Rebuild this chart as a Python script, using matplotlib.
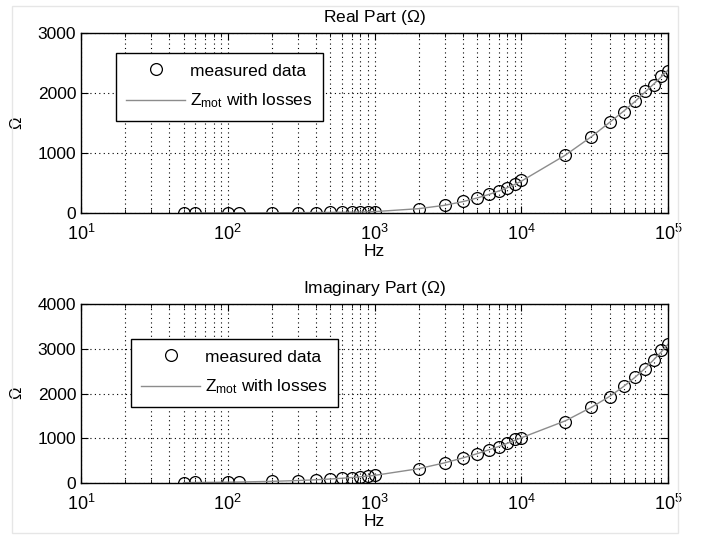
import matplotlib.pyplot as plt
from matplotlib.patches import Rectangle
import numpy as np

plt.rcParams['font.family'] = ['Liberation Sans', 'DejaVu Sans']
plt.rcParams['mathtext.fontset'] = 'custom'
plt.rcParams['mathtext.rm'] = 'Liberation Sans'
plt.rcParams['mathtext.it'] = 'Liberation Sans'

# measurement frequencies (Hz)
freq = [50, 60, 100, 120, 200, 300, 400, 500, 600, 700, 800, 900, 1000,
        2000, 3000, 4000, 5000, 6000, 7000, 8000, 9000, 10000,
        20000, 30000, 40000, 50000, 60000, 70000, 80000, 90000, 100000]

# real part, measured (Ohm)
real_meas = [2, 2, 3, 3, 4, 6, 7, 9, 11, 13, 15, 18, 22,
             75, 130, 195, 255, 310, 365, 425, 490, 545,
             975, 1265, 1515, 1690, 1860, 2035, 2140, 2290, 2375]
# real part, model
real_model = [1, 1, 2, 2, 4, 6, 8, 10, 12, 14, 17, 20, 23,
              72, 128, 190, 250, 308, 365, 420, 475, 530,
              965, 1270, 1510, 1700, 1865, 2020, 2150, 2270, 2380]

# imaginary part, measured (Ohm)
imag_meas = [10, 12, 20, 24, 40, 55, 75, 90, 105, 120, 135, 150, 170,
             315, 440, 550, 648, 737, 800, 900, 975, 998,
             1370, 1690, 1930, 2175, 2375, 2550, 2750, 2970, 3110]
# imaginary part, model
imag_model = [9, 11, 18, 22, 37, 55, 72, 90, 106, 122, 138, 154, 170,
              320, 450, 560, 655, 740, 815, 885, 950, 1010,
              1390, 1690, 1935, 2160, 2370, 2565, 2755, 2930, 3100]

panels = [
    ('Real Part ($\\Omega$)', real_meas, real_model, 3000, [0, 1000, 2000, 3000]),
    ('Imaginary Part ($\\Omega$)', imag_meas, imag_model, 4000, [0, 1000, 2000, 3000, 4000]),
]

fig = plt.figure(figsize=(7.02, 5.37), dpi=100)
fig.add_artist(Rectangle((12 / 702, 1 - 533 / 537), 666 / 702, 527 / 537,
                         transform=fig.transFigure, fill=False,
                         edgecolor='#e6e6e6', linewidth=1))

W, H = 702.0, 537.0
boxes = [(81, 33, 668, 213), (81, 304, 668, 483)]
leg_pos = [(116, 53), (131, 339)]
dots = (0, (1, 3))

for i, (title, meas, model, ymax, yticks) in enumerate(panels):
    x0, y0, x1, y1 = boxes[i]
    ax = fig.add_axes([x0 / W, 1 - y1 / H, (x1 - x0) / W, (y1 - y0) / H])
    ax.semilogx(freq, meas, 'o', mfc='none', mec='black', ms=8.5, mew=0.9,
                label='measured data')
    ax.semilogx(freq, model, '-', color='#8c8c8c', lw=1.0,
                label='$Z_{\\mathrm{mot}}$ with losses')
    ax.set_xlim(10, 1e5)
    ax.set_ylim(0, ymax)
    ax.set_yticks(yticks)
    ax.set_xticks([10, 100, 1000, 10000, 100000])
    ax.set_xticklabels(['$10^{1}$', '$10^{2}$', '$10^{3}$', '$10^{4}$', '$10^{5}$'])
    ax.grid(True, which='major', linestyle=dots, color='black', linewidth=0.8)
    ax.grid(True, which='minor', axis='x', linestyle=dots, color='black', linewidth=0.8)
    ax.tick_params(which='both', direction='in', top=True, right=True,
                   labelsize=12.5, color='black')
    ax.tick_params(which='major', length=5)
    ax.tick_params(which='minor', length=3)
    ax.tick_params(axis='x', which='major', pad=8, labelsize=13)
    for s in ax.spines.values():
        s.set_linewidth(1.0)
    ax.set_title(title, fontsize=12.5, pad=8)
    ax.set_xlabel('Hz', fontsize=12.5, labelpad=0)
    ax.set_ylabel('$\\Omega$', fontsize=12, labelpad=9)
    lx, ly = leg_pos[i]
    leg = ax.legend(loc='upper left', bbox_to_anchor=((lx - x0) / (x1 - x0), 1 - (ly - y0) / (y1 - y0)),
                    fontsize=12.5, fancybox=False, framealpha=1, edgecolor='black',
                    handlelength=3.4, handletextpad=0.25, borderaxespad=0,
                    borderpad=0.6, labelspacing=0.75)
    leg.get_frame().set_linewidth(1.0)

fig.savefig('out.png', dpi=100)
